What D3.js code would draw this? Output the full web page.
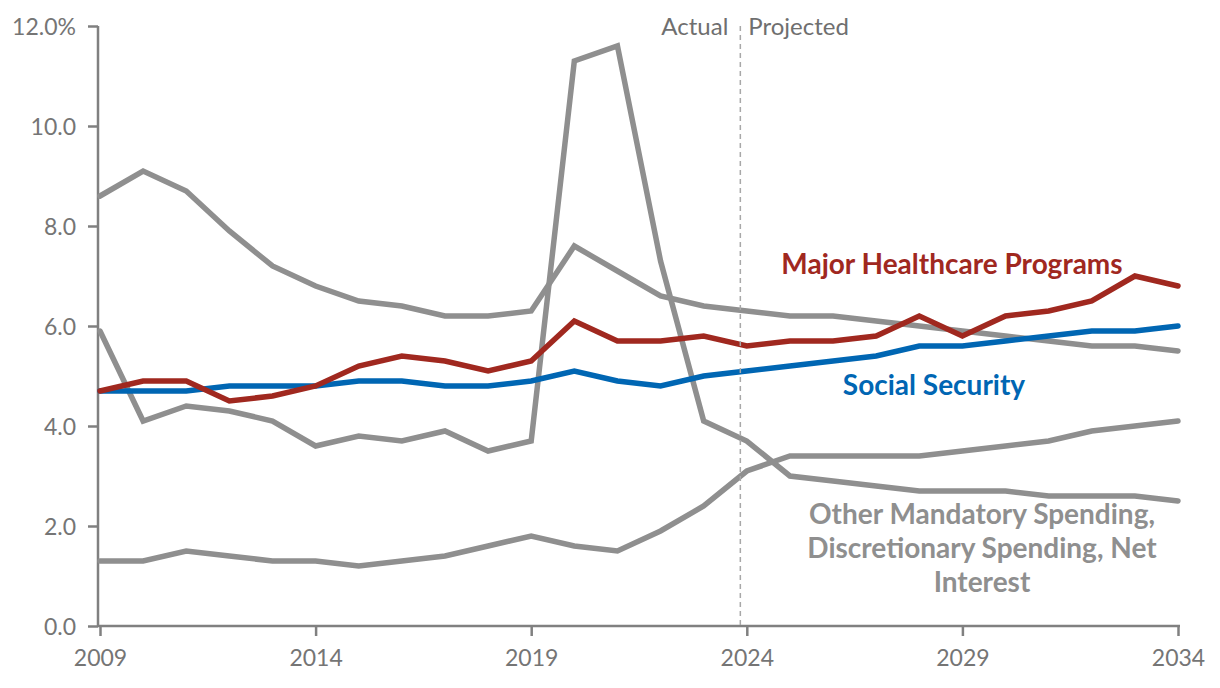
<!DOCTYPE html>
<html><head><meta charset="utf-8">
<script src="https://cdn.jsdelivr.net/npm/d3@7"></script>
<style>
html,body{margin:0;padding:0;background:#fff;}
svg text{font-family:Lato,"Noto Sans",sans-serif;}
</style></head>
<body><svg id="c" width="1220" height="688"></svg>
<script>
const years = d3.range(2009, 2035);
const otherSeriesA = [8.6,9.1,8.7,7.9,7.2,6.8,6.5,6.4,6.2,6.2,6.3,7.6,7.1,6.6,6.4,6.3,6.2,6.2,6.1,6.0,5.9,5.8,5.7,5.6,5.6,5.5];
const otherSeriesB = [5.9,4.1,4.4,4.3,4.1,3.6,3.8,3.7,3.9,3.5,3.7,11.3,11.6,7.3,4.1,3.7,3.0,2.9,2.8,2.7,2.7,2.7,2.6,2.6,2.6,2.5];
const otherSeriesC = [1.3,1.3,1.5,1.4,1.3,1.3,1.2,1.3,1.4,1.6,1.8,1.6,1.5,1.9,2.4,3.1,3.4,3.4,3.4,3.4,3.5,3.6,3.7,3.9,4.0,4.1];
const socialSecurity = [4.7,4.7,4.7,4.8,4.8,4.8,4.9,4.9,4.8,4.8,4.9,5.1,4.9,4.8,5.0,5.1,5.2,5.3,5.4,5.6,5.6,5.7,5.8,5.9,5.9,6.0];
const healthcare = [4.7,4.9,4.9,4.5,4.6,4.8,5.2,5.4,5.3,5.1,5.3,6.1,5.7,5.7,5.8,5.6,5.7,5.7,5.8,6.2,5.8,6.2,6.3,6.5,7.0,6.8];
const xTicks = [2009,2014,2019,2024,2029,2034];
const yTicks = [0,2,4,6,8,10,12];
const dividerYear = 2023.85;
const labelActual = "Actual", labelProjected = "Projected";
const labelHealth = "Major Healthcare Programs";
const labelSS = "Social Security";
const labelOther = ["Other Mandatory Spending,","Discretionary Spending, Net","Interest"];

const svg = d3.select("#c");
const x = d3.scaleLinear().domain([2009,2034]).range([100,1178]);
const y = d3.scaleLinear().domain([0,12]).range([626,26]);
const axisCol = "#808080", txtCol = "#757575";

// y axis
const yAxis = svg.append("g").attr("transform","translate(98,0)")
  .call(d3.axisLeft(y).tickValues(yTicks).tickSize(10).tickPadding(12)
    .tickFormat(d => d===12 ? d3.format(".1f")(d)+"%" : d3.format(".1f")(d)));
yAxis.select(".domain").attr("stroke",axisCol).attr("stroke-width",2.5).attr("d","M0,26V626");
yAxis.selectAll(".tick line").attr("stroke",axisCol).attr("stroke-width",2.5);
yAxis.selectAll(".tick text").attr("fill",txtCol).style("font-size","23px").attr("dy","0.35em");

// x axis
const xAxis = svg.append("g").attr("transform","translate(0,626)")
  .call(d3.axisBottom(x).tickValues(xTicks).tickSize(10).tickPadding(12).tickFormat(d3.format("d")));
xAxis.select(".domain").attr("stroke",axisCol).attr("stroke-width",2.5).attr("d","M98,0H1180");
xAxis.selectAll(".tick line").attr("stroke",axisCol).attr("stroke-width",2.5);
xAxis.selectAll(".tick text").attr("fill",txtCol).style("font-size","23px").attr("dy","0.78em");

const line = d3.line().x((d,i)=>x(years[i])).y(d=>y(d));
const grey = "#8f8f8f", red = "#a0281f", blue = "#0066b3";
[otherSeriesA, otherSeriesB, otherSeriesC].forEach(s=>{
  svg.append("path").datum(s).attr("d",line).attr("fill","none").attr("stroke",grey)
    .attr("stroke-width",5.5).attr("stroke-linejoin","miter").attr("stroke-linecap","round");
});
svg.append("path").datum(socialSecurity).attr("d",line).attr("fill","none").attr("stroke",blue)
  .attr("stroke-width",5.5).attr("stroke-linecap","round");
svg.append("path").datum(healthcare).attr("d",line).attr("fill","none").attr("stroke",red)
  .attr("stroke-width",5.5).attr("stroke-linecap","round");

// divider
svg.append("line").attr("x1",x(dividerYear)).attr("x2",x(dividerYear)).attr("y1",y(12)).attr("y2",y(0))
  .attr("stroke","#a8a8a8").attr("stroke-width",1.5).attr("stroke-dasharray","5,4");
svg.append("text").attr("x",x(dividerYear)-12).attr("y",35).attr("text-anchor","end")
  .attr("fill","#6f6f6f").style("font-size","24px").text(labelActual);
svg.append("text").attr("x",x(dividerYear)+8).attr("y",35).attr("text-anchor","start")
  .attr("fill","#6f6f6f").style("font-size","24px").text(labelProjected);

// labels
svg.append("text").attr("x",952).attr("y",274).attr("text-anchor","middle").attr("fill",red)
  .style("font-size","28px").style("font-weight","bold").text(labelHealth);
svg.append("text").attr("x",934).attr("y",395).attr("text-anchor","middle").attr("fill",blue)
  .style("font-size","28px").style("font-weight","bold").text(labelSS);
labelOther.forEach((t,i)=>{
  svg.append("text").attr("x",982).attr("y",524+i*34).attr("text-anchor","middle").attr("fill",grey)
    .style("font-size","28px").style("font-weight","bold").text(t);
});
</script></body></html>
